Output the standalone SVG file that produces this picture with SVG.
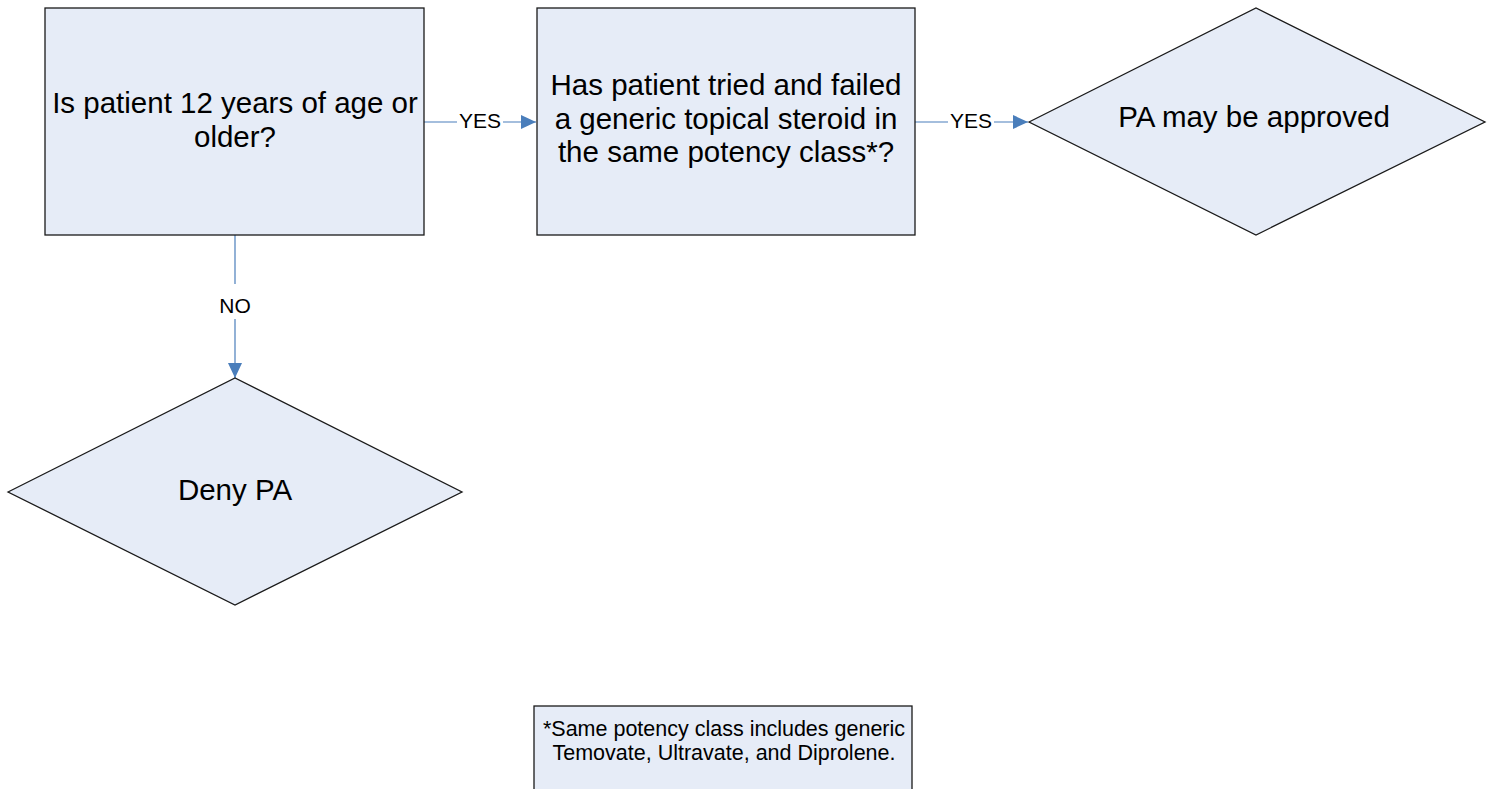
<svg xmlns="http://www.w3.org/2000/svg" width="1493" height="789" viewBox="0 0 1493 789">
  <style>
    .shape { fill: #E6ECF7; stroke: #1a1a1a; stroke-width: 1.3; }
    .lbl { font-family: "Liberation Sans", Arial, sans-serif; font-size: 29.5px; fill: #000; text-anchor: middle; }
    .note { font-family: "Liberation Sans", Arial, sans-serif; font-size: 21.5px; fill: #000; text-anchor: middle; }
    .edge { stroke: #4A7EBB; stroke-width: 1.2; fill: none; }
    .elbl { font-family: "Liberation Sans", Arial, sans-serif; font-size: 21px; fill: #000; text-anchor: middle; }
  </style>
  <defs>
    <marker id="arrow" viewBox="0 0 10 10" refX="10" refY="5" markerWidth="15" markerHeight="14" markerUnits="userSpaceOnUse" orient="auto" preserveAspectRatio="none">
      <path d="M0,0 L10,5 L0,10 z" fill="#4A7EBB"/>
    </marker>
  </defs>
  <rect width="1493" height="789" fill="#fff"/>

  <g id="connectors">
    <line class="edge" x1="424" y1="122" x2="536" y2="122" marker-end="url(#arrow)"/>
    <rect x="457" y="110" width="46" height="24" fill="#fff"/>
    <text class="elbl" x="480" y="128">YES</text>

    <line class="edge" x1="915" y1="122" x2="1028" y2="122" marker-end="url(#arrow)"/>
    <rect x="948" y="110" width="46" height="24" fill="#fff"/>
    <text class="elbl" x="971" y="128">YES</text>

    <line class="edge" x1="235" y1="235" x2="235" y2="378" marker-end="url(#arrow)"/>
    <rect x="216" y="284" width="38" height="35" fill="#fff"/>
    <text class="elbl" x="235" y="313">NO</text>
  </g>

  <g id="age-check">
    <rect class="shape" x="45" y="8" width="379" height="227"/>
    <text class="lbl" x="235" y="113">Is patient 12 years of age or</text>
    <text class="lbl" x="235" y="147">older?</text>
  </g>

  <g id="steroid-check">
    <rect class="shape" x="537" y="8" width="378" height="227"/>
    <text class="lbl" x="726" y="95">Has patient tried and failed</text>
    <text class="lbl" x="726" y="128.5">a generic topical steroid in</text>
    <text class="lbl" x="726" y="162">the same potency class*?</text>
  </g>

  <g id="approve">
    <polygon class="shape" points="1029,122 1256,8 1485,122 1256,235"/>
    <text class="lbl" x="1254" y="127">PA may be approved</text>
  </g>

  <g id="deny">
    <polygon class="shape" points="8,492 235,378 462,492 235,605"/>
    <text class="lbl" x="235" y="500">Deny PA</text>
  </g>

  <g id="footnote">
    <rect class="shape" x="534" y="706" width="378" height="90"/>
    <text class="note" x="724" y="736">*Same potency class includes generic</text>
    <text class="note" x="724" y="760">Temovate, Ultravate, and Diprolene.</text>
  </g>
</svg>
